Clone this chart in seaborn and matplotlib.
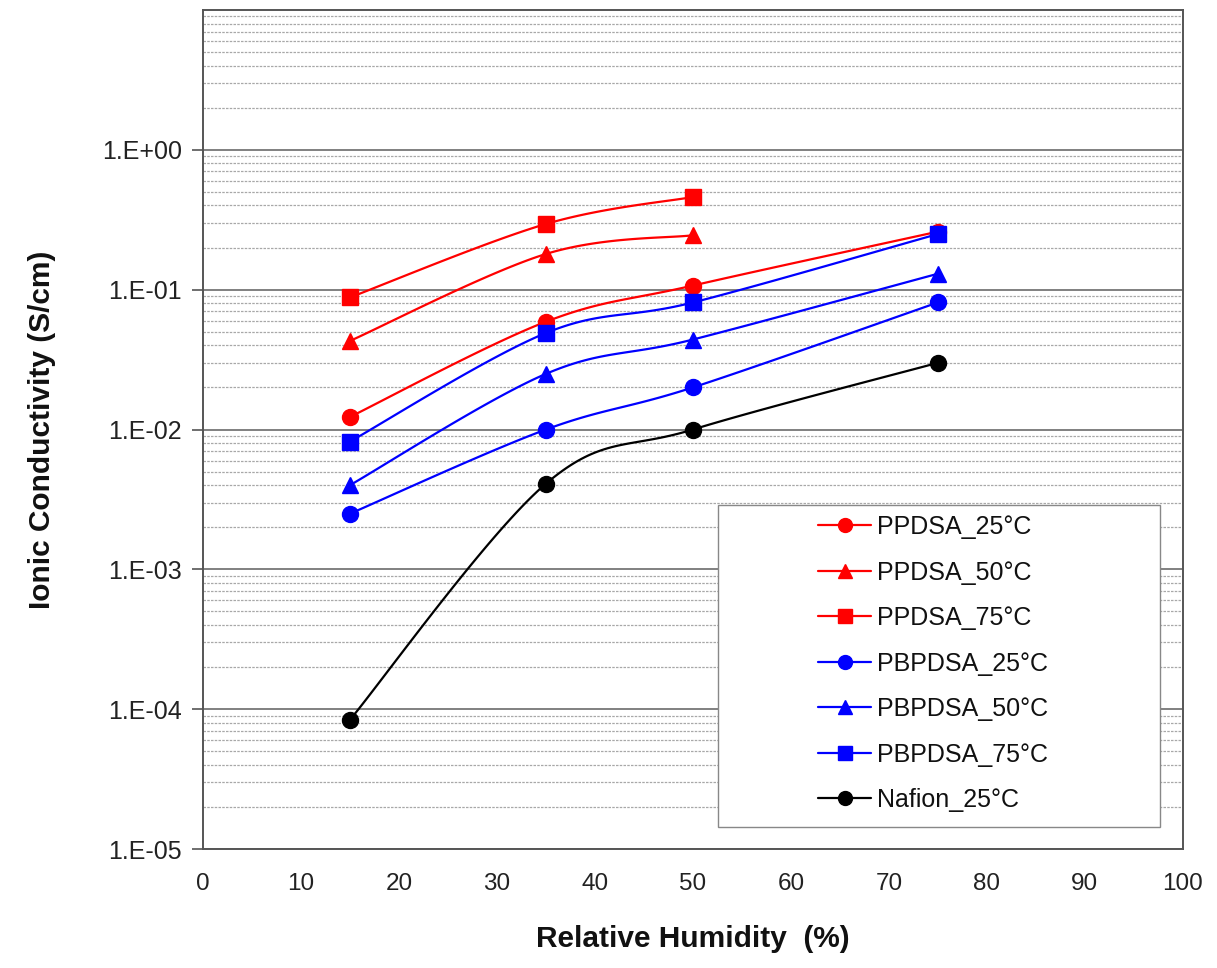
import numpy as np
import seaborn as sns
import matplotlib.pyplot as plt
from matplotlib.lines import Line2D
from matplotlib.patches import Rectangle
from matplotlib.ticker import FixedLocator, FuncFormatter, LogLocator

# Relative humidity values (%)
rh_ppdsa = [15, 35, 50, 75]
rh_ppdsa75 = [15, 35, 50]

# Ionic conductivity (S/cm)
ppdsa_25 = [0.0123, 0.059, 0.107, 0.26]
ppdsa_50 = [0.043, 0.18, 0.245]
ppdsa_75 = [0.088, 0.295, 0.46]
pbpdsa_25 = [0.0025, 0.010, 0.020, 0.081]
pbpdsa_50 = [0.0040, 0.025, 0.044, 0.13]
pbpdsa_75 = [0.0082, 0.049, 0.081, 0.25]
nafion_25 = [8.4e-5, 0.0041, 0.010, 0.030]

series = [
    ('PPDSA_25°C', rh_ppdsa, ppdsa_25, '#ff0000', 'o', 11.5),
    ('PPDSA_50°C', rh_ppdsa75, ppdsa_50, '#ff0000', '^', 11),
    ('PPDSA_75°C', rh_ppdsa75, ppdsa_75, '#ff0000', 's', 11.5),
    ('PBPDSA_25°C', rh_ppdsa, pbpdsa_25, '#0000ff', 'o', 11.5),
    ('PBPDSA_50°C', rh_ppdsa, pbpdsa_50, '#0000ff', '^', 11),
    ('PBPDSA_75°C', rh_ppdsa, pbpdsa_75, '#0000ff', 's', 11.5),
    ('Nafion_25°C', rh_ppdsa, nafion_25, '#000000', 'o', 11.5),
]


def smooth_curve(x, y, n=40):
    # Excel-style smoothed line: cubic Bezier segments in (x, log y) space
    px = np.array(x, dtype=float)
    py = np.log10(np.array(y, dtype=float))
    xs, ys = [], []
    k = len(px)
    for i in range(k - 1):
        i0 = max(i - 1, 0)
        i3 = min(i + 2, k - 1)
        c1x = px[i] + (px[i + 1] - px[i0]) / 6
        c1y = py[i] + (py[i + 1] - py[i0]) / 6
        c2x = px[i + 1] - (px[i3] - px[i]) / 6
        c2y = py[i + 1] - (py[i3] - py[i]) / 6
        t = np.linspace(0, 1, n)
        bx = (1 - t) ** 3 * px[i] + 3 * (1 - t) ** 2 * t * c1x + 3 * (1 - t) * t ** 2 * c2x + t ** 3 * px[i + 1]
        by = (1 - t) ** 3 * py[i] + 3 * (1 - t) ** 2 * t * c1y + 3 * (1 - t) * t ** 2 * c2y + t ** 3 * py[i + 1]
        xs.extend(bx)
        ys.extend(by)
    return np.array(xs), 10 ** np.array(ys)


sns.set_style('white')
plt.rcParams['font.family'] = ['Liberation Sans', 'DejaVu Sans']
plt.rcParams['text.color'] = '#111111'
plt.rcParams['axes.labelcolor'] = '#111111'
plt.rcParams['xtick.labelcolor'] = '#222222'
plt.rcParams['ytick.labelcolor'] = '#222222'

fig = plt.figure(figsize=(12.17, 9.68), dpi=100)
ax = fig.add_axes([0.1668, 0.1229, 0.8052, 0.8668])

handles = []
for label, x, y, color, marker, ms in series:
    sx, sy = smooth_curve(x, y)
    sns.lineplot(x=sx, y=sy, color=color, linewidth=1.6, ax=ax, sort=False, estimator=None)
    ax.plot(x, y, linestyle='none', marker=marker, color=color, markersize=ms, zorder=5)
    handles.append(Line2D([0], [0], color=color, linewidth=1.6, marker=marker, markersize=ms - 1.5, label=label))

ax.set_yscale('log')
ax.set_xlim(0, 100)
ax.set_ylim(1e-5, 10)
ax.set_xticks(np.arange(0, 101, 10))
ax.yaxis.set_major_locator(FixedLocator([1e-5, 1e-4, 1e-3, 1e-2, 1e-1, 1e0]))
ax.yaxis.set_minor_locator(LogLocator(base=10, subs=np.arange(2, 10)))
ax.yaxis.set_major_formatter(FuncFormatter(lambda v, p: f'1.E{int(round(np.log10(v))):+03d}'))
ax.yaxis.set_minor_formatter(FuncFormatter(lambda v, p: ''))

ax.grid(True, which='major', axis='y', color='#808080', linewidth=1.4)
ax.grid(True, which='minor', axis='y', color='#a8a8a8', linewidth=0.9, linestyle=(0, (2, 1)))
ax.set_axisbelow(True)

for s in ax.spines.values():
    s.set_color('#555555')
    s.set_linewidth(1.4)

ax.tick_params(axis='x', which='major', direction='inout', length=14, width=1.2, color='#555555',
               labelsize=17.5, pad=10)
ax.tick_params(axis='y', which='major', direction='out', length=8, width=1.2, color='#555555',
               labelsize=18, pad=7, left=True)
ax.tick_params(axis='y', which='minor', left=False)

ax.set_xlabel('Relative Humidity  (%)', fontsize=21.5, fontweight='bold', labelpad=22)
ax.set_ylabel('Ionic Conductivity (S/cm)', fontsize=21.5, fontweight='bold', labelpad=33)

# legend box drawn separately (it is much wider than its content in the original)
ax.add_patch(Rectangle((0.5255, 0.0262), 0.451, 0.3838, transform=ax.transAxes,
                       facecolor='white', edgecolor='#888888', linewidth=1.0, zorder=6))
leg = ax.legend(handles=handles, loc='center left', bbox_to_anchor=(0.628, 0.221),
                fontsize=18, frameon=False, labelspacing=0.86, handlelength=2.1,
                handletextpad=0.25, borderpad=0, borderaxespad=0)
leg.set_zorder(7)

fig.savefig('out.png', dpi=100)
